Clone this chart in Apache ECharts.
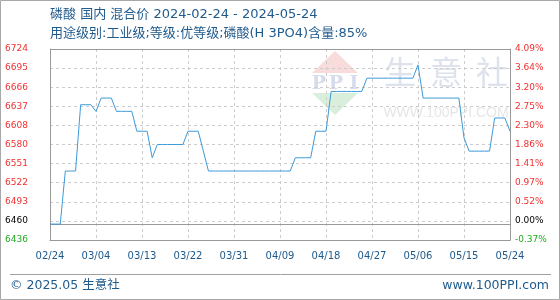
<!DOCTYPE html>
<html>
<head>
<meta charset="utf-8">
<script src="https://cdn.jsdelivr.net/npm/echarts@6/dist/echarts.min.js"></script>
<style>html,body{margin:0;padding:0;background:#fff}#c{width:560px;height:300px}</style>
</head>
<body>
<div id="c"></div>
<script>
// ---- data ----
const categories = [
  '02/24','02/25','02/26','02/27','02/28','02/29',
  '03/01','03/02','03/03','03/04','03/05','03/06','03/07','03/08','03/09','03/10',
  '03/11','03/12','03/13','03/14','03/15','03/16','03/17','03/18','03/19','03/20',
  '03/21','03/22','03/23','03/24','03/25','03/26','03/27','03/28','03/29','03/30','03/31',
  '04/01','04/02','04/03','04/04','04/05','04/06','04/07','04/08','04/09','04/10',
  '04/11','04/12','04/13','04/14','04/15','04/16','04/17','04/18','04/19','04/20',
  '04/21','04/22','04/23','04/24','04/25','04/26','04/27','04/28','04/29','04/30',
  '05/01','05/02','05/03','05/04','05/05','05/06','05/07','05/08','05/09','05/10',
  '05/11','05/12','05/13','05/14','05/15','05/16','05/17','05/18','05/19','05/20',
  '05/21','05/22','05/23','05/24'
];
const febPrices = [6460,6460,6460,6540,6540,6540];
const marPrices = [6640,6640,6640,6630,6650,6650,6650,6630,6630,6630,6630,6600,6600,6600,6560,
                   6580,6580,6580,6580,6580,6580,6600,6600,6600,6570,6540,6540,6540,6540,6540,6540];
const aprPrices = [6540,6540,6540,6540,6540,6540,6540,6540,6540,6540,6540,6560,6560,6560,6560,
                   6600,6600,6600,6660,6660,6660,6660,6660,6660,6660,6680,6680,6680,6680,6680];
const mayPrices = [6680,6680,6680,6680,6680,6700,6650,6650,6650,6650,6650,6650,6650,6650,6590,
                   6570,6570,6570,6570,6570,6620,6620,6620,6600];
const prices = febPrices.concat(marPrices, aprPrices, mayPrices);

const baseValue = 6460;
const axisMin = 6436;
const axisMax = 6724;
const axisStep = 28.8;
const leftTickLabels  = ['6436','6460','6493','6522','6551','6580','6608','6637','6666','6695','6724'];
const rightTickLabels = ['-0.37%','0.00%','0.52%','0.97%','1.41%','1.86%','2.30%','2.75%','3.20%','3.64%','4.09%'];

const titleLine1 = '磷酸 国内 混合价 2024-02-24 - 2024-05-24';
const titleLine2 = '用途级别:工业级;等级:优等级;磷酸(H 3PO4)含量:85%';
const footerLeft = '© 2025.05 生意社';
const footerRight = 'www.100PPI.com';

// ---- chart ----
const LAT = '"DejaVu Sans", "Noto Sans CJK SC", sans-serif';
const BLUE = '#1f5a8c';
const richLbl = {
  r: {color: '#f23030', fontSize: 9, fontFamily: LAT},
  k: {color: '#000000', fontSize: 9, fontFamily: LAT},
  g: {color: '#22aa22', fontSize: 9, fontFamily: LAT}
};
function tickStyle(i) { return i === 0 ? 'g' : (i === 1 ? 'k' : 'r'); }
function tickIndex(v) { return Math.round((v - axisMin) / axisStep); }

const chart = echarts.init(document.getElementById('c'), null, {renderer: 'canvas'});
chart.setOption({
  animation: false,
  backgroundColor: '#ffffff',
  grid: {left: 50, right: 50, top: 49, bottom: 60, containLabel: false},
  xAxis: {
    type: 'category',
    data: categories,
    boundaryGap: false,
    axisLine: {show: true, lineStyle: {color: '#999999', width: 1}},
    axisTick: {show: false},
    axisLabel: {interval: 8, color: BLUE, fontSize: 10, fontFamily: LAT, margin: 11},
    splitLine: {show: true, interval: 8, lineStyle: {color: '#cccccc', width: 1, type: [3, 3]}}
  },
  yAxis: [
    {
      type: 'value', position: 'left', min: axisMin, max: axisMax, interval: axisStep,
      axisLine: {show: true, lineStyle: {color: '#999999', width: 1}},
      axisTick: {show: false},
      axisLabel: {
        align: 'left', margin: 45, fontSize: 9, fontFamily: LAT,
        formatter: function (v) { const i = tickIndex(v); return '{' + tickStyle(i) + '|' + leftTickLabels[i] + '}'; },
        rich: richLbl
      },
      splitLine: {show: true, lineStyle: {color: '#cccccc', width: 1, type: [3, 3]}}
    },
    {
      type: 'value', position: 'right', min: axisMin, max: axisMax, interval: axisStep,
      axisLine: {show: true, lineStyle: {color: '#999999', width: 1}},
      axisTick: {show: false},
      axisLabel: {
        align: 'left', margin: 5, fontSize: 9, fontFamily: LAT,
        formatter: function (v) { const i = tickIndex(v); return '{' + tickStyle(i) + '|' + rightTickLabels[i] + '}'; },
        rich: richLbl
      },
      splitLine: {show: false}
    }
  ],
  series: [{
    type: 'line',
    data: prices,
    yAxisIndex: 0,
    symbol: 'none',
    showSymbol: false,
    z: 5,
    lineStyle: {color: '#3d9ad8', width: 1},
    markLine: {
      silent: true, symbol: 'none', animation: false,
      label: {show: false},
      lineStyle: {color: '#999999', width: 1, type: 'solid'},
      data: [{yAxis: baseValue}]
    }
  }],
  graphic: [
    // watermark logo
    {type: 'polygon', z: 0, silent: true, shape: {points: [[335, 51], [312, 73], [358, 73]]}, style: {fill: '#f8dcdb'}},
    {type: 'polygon', z: 0, silent: true, shape: {points: [[312, 93], [358, 93], [335, 115]]}, style: {fill: '#d9efdc'}},
    {type: 'text', z: 0, silent: true, style: {x: 319, y: 84, text: 'P', font: 'bold 19px "DejaVu Serif", serif', fill: '#d6dcec', textAlign: 'center', textVerticalAlign: 'middle', align: 'center', verticalAlign: 'middle'}},
    {type: 'text', z: 0, silent: true, style: {x: 336, y: 84, text: 'P', font: 'bold 19px "DejaVu Serif", serif', fill: '#d6dcec', textAlign: 'center', textVerticalAlign: 'middle', align: 'center', verticalAlign: 'middle'}},
    {type: 'text', z: 0, silent: true, style: {x: 354, y: 84, text: 'I', font: 'bold 19px "DejaVu Serif", serif', fill: '#d6dcec', textAlign: 'center', textVerticalAlign: 'middle', align: 'center', verticalAlign: 'middle'}},
    {type: 'text', z: 0, silent: true, style: {x: 400, y: 72, text: '生', font: '32px "Noto Sans CJK SC", sans-serif', fill: '#dde2ec', textAlign: 'center', textVerticalAlign: 'middle', align: 'center', verticalAlign: 'middle'}},
    {type: 'text', z: 0, silent: true, style: {x: 446, y: 72, text: '意', font: '32px "Noto Sans CJK SC", sans-serif', fill: '#dde2ec', textAlign: 'center', textVerticalAlign: 'middle', align: 'center', verticalAlign: 'middle'}},
    {type: 'text', z: 0, silent: true, style: {x: 492, y: 72, text: '社', font: '32px "Noto Sans CJK SC", sans-serif', fill: '#dde2ec', textAlign: 'center', textVerticalAlign: 'middle', align: 'center', verticalAlign: 'middle'}},
    {type: 'text', z: 0, silent: true, style: {x: 446, y: 113, text: 'WWW.100PPI.COM', font: '14px "Liberation Sans", Arial, sans-serif', fill: '#e6e6e6', textAlign: 'center', textVerticalAlign: 'middle', align: 'center', verticalAlign: 'middle'}},
    // plot top border
    {type: 'line', z: 10, silent: true, shape: {x1: 50, y1: 49.5, x2: 510, y2: 49.5}, style: {stroke: '#999999', lineWidth: 1}},
    // titles
    {type: 'text', z: 10, style: {x: 50, y: 15, text: titleLine1, font: '13px ' + LAT, fill: BLUE, textAlign: 'left', textVerticalAlign: 'middle', align: 'left', verticalAlign: 'middle'}},
    {type: 'text', z: 10, style: {x: 50, y: 34, text: titleLine2, font: '13px ' + LAT, fill: BLUE, textAlign: 'left', textVerticalAlign: 'middle', align: 'left', verticalAlign: 'middle'}},
    // footer
    {type: 'line', z: 10, silent: true, shape: {x1: 10, y1: 274.5, x2: 551, y2: 274.5}, style: {stroke: '#a0a0a0', lineWidth: 1}},
    {type: 'text', z: 10, style: {x: 10, y: 286, text: footerLeft, font: '12.5px ' + LAT, fill: BLUE, textAlign: 'left', textVerticalAlign: 'middle', align: 'left', verticalAlign: 'middle'}},
    {type: 'text', z: 10, style: {x: 549, y: 286, text: footerRight, font: '12.5px ' + LAT, fill: BLUE, textAlign: 'right', textVerticalAlign: 'middle', align: 'right', verticalAlign: 'middle'}},
    // outer border
    {type: 'rect', z: 10, silent: true, shape: {x: 0.5, y: 0.5, width: 559, height: 299}, style: {fill: 'none', stroke: '#a8a8a8', lineWidth: 1}}
  ]
});
</script>
</body>
</html>
